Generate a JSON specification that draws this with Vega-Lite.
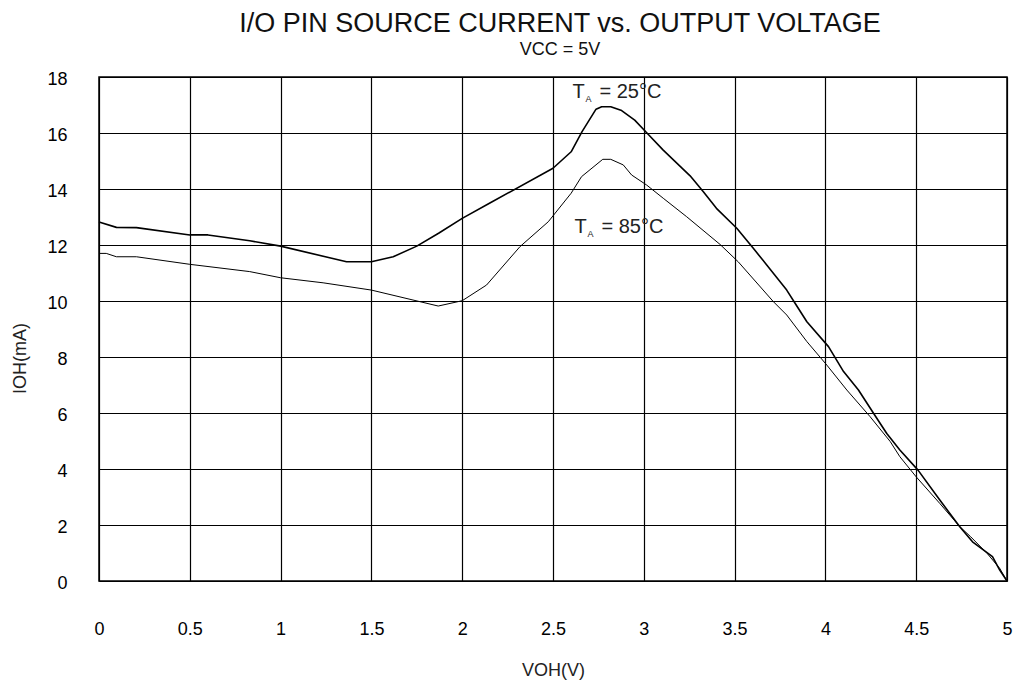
{
  "$schema": "https://vega.github.io/schema/vega-lite/v6.json",
  "autosize": "none",
  "width": 908,
  "height": 504,
  "padding": {"left": 99, "top": 77, "right": 11, "bottom": 108},
  "background": "white",
  "config": {
    "font": "Liberation Sans",
    "view": {"stroke": "black", "strokeWidth": 1.5},
    "axis": {"grid": true, "gridColor": "black", "gridOpacity": 1, "gridWidth": 1.2, "domain": false, "ticks": false, "labelFlush": false, "labelFont": "Liberation Sans", "labelFontSize": 18, "labelColor": "black", "titleFont": "Liberation Sans", "titleFontSize": 18, "titleFontWeight": "normal", "titleColor": "#222"}
  },
  "title": {
    "text": "I/O PIN SOURCE CURRENT vs. OUTPUT VOLTAGE",
    "subtitle": "VCC = 5V",
    "anchor": "middle",
    "dx": 7,
    "font": "Liberation Sans",
    "fontSize": 27,
    "fontWeight": "normal",
    "color": "#111",
    "subtitleFont": "Liberation Sans",
    "subtitleFontSize": 18,
    "subtitleColor": "#111",
    "subtitlePadding": 3,
    "offset": 10
  },
  "datasets": {
    "curves": [
      {"v": 0, "i": 12.82, "t": "25"},
      {"v": 0.096, "i": 12.63, "t": "25"},
      {"v": 0.206, "i": 12.62, "t": "25"},
      {"v": 0.5, "i": 12.36, "t": "25"},
      {"v": 0.6, "i": 12.36, "t": "25"},
      {"v": 0.83, "i": 12.15, "t": "25"},
      {"v": 1.0, "i": 11.96, "t": "25"},
      {"v": 1.363, "i": 11.4, "t": "25"},
      {"v": 1.5, "i": 11.4, "t": "25"},
      {"v": 1.62, "i": 11.58, "t": "25"},
      {"v": 1.75, "i": 11.96, "t": "25"},
      {"v": 1.87, "i": 12.42, "t": "25"},
      {"v": 2.0, "i": 12.95, "t": "25"},
      {"v": 2.15, "i": 13.49, "t": "25"},
      {"v": 2.5, "i": 14.74, "t": "25"},
      {"v": 2.6, "i": 15.33, "t": "25"},
      {"v": 2.66, "i": 16.05, "t": "25"},
      {"v": 2.737, "i": 16.85, "t": "25"},
      {"v": 2.768, "i": 16.94, "t": "25"},
      {"v": 2.818, "i": 16.94, "t": "25"},
      {"v": 2.878, "i": 16.8, "t": "25"},
      {"v": 2.95, "i": 16.46, "t": "25"},
      {"v": 3.016, "i": 16.01, "t": "25"},
      {"v": 3.107, "i": 15.39, "t": "25"},
      {"v": 3.255, "i": 14.47, "t": "25"},
      {"v": 3.328, "i": 13.9, "t": "25"},
      {"v": 3.4, "i": 13.31, "t": "25"},
      {"v": 3.512, "i": 12.6, "t": "25"},
      {"v": 3.603, "i": 11.88, "t": "25"},
      {"v": 3.677, "i": 11.29, "t": "25"},
      {"v": 3.787, "i": 10.39, "t": "25"},
      {"v": 3.833, "i": 9.92, "t": "25"},
      {"v": 3.898, "i": 9.26, "t": "25"},
      {"v": 4.017, "i": 8.37, "t": "25"},
      {"v": 4.1, "i": 7.48, "t": "25"},
      {"v": 4.182, "i": 6.82, "t": "25"},
      {"v": 4.265, "i": 5.99, "t": "25"},
      {"v": 4.338, "i": 5.27, "t": "25"},
      {"v": 4.41, "i": 4.68, "t": "25"},
      {"v": 4.51, "i": 3.96, "t": "25"},
      {"v": 4.63, "i": 2.89, "t": "25"},
      {"v": 4.74, "i": 1.94, "t": "25"},
      {"v": 4.81, "i": 1.4, "t": "25"},
      {"v": 4.92, "i": 0.87, "t": "25"},
      {"v": 4.96, "i": 0.39, "t": "25"},
      {"v": 5.0, "i": 0, "t": "25"},
      {"v": 0, "i": 11.7, "t": "85"},
      {"v": 0.04, "i": 11.7, "t": "85"},
      {"v": 0.096, "i": 11.58, "t": "85"},
      {"v": 0.206, "i": 11.58, "t": "85"},
      {"v": 0.5, "i": 11.31, "t": "85"},
      {"v": 0.83, "i": 11.05, "t": "85"},
      {"v": 1.0, "i": 10.83, "t": "85"},
      {"v": 1.234, "i": 10.65, "t": "85"},
      {"v": 1.5, "i": 10.39, "t": "85"},
      {"v": 1.868, "i": 9.82, "t": "85"},
      {"v": 2.0, "i": 10.01, "t": "85"},
      {"v": 2.134, "i": 10.57, "t": "85"},
      {"v": 2.318, "i": 11.94, "t": "85"},
      {"v": 2.474, "i": 12.83, "t": "85"},
      {"v": 2.6, "i": 13.85, "t": "85"},
      {"v": 2.657, "i": 14.44, "t": "85"},
      {"v": 2.774, "i": 15.06, "t": "85"},
      {"v": 2.818, "i": 15.06, "t": "85"},
      {"v": 2.887, "i": 14.86, "t": "85"},
      {"v": 2.933, "i": 14.5, "t": "85"},
      {"v": 3.016, "i": 14.14, "t": "85"},
      {"v": 3.107, "i": 13.67, "t": "85"},
      {"v": 3.236, "i": 13.01, "t": "85"},
      {"v": 3.42, "i": 12.02, "t": "85"},
      {"v": 3.52, "i": 11.4, "t": "85"},
      {"v": 3.713, "i": 9.98, "t": "85"},
      {"v": 3.787, "i": 9.5, "t": "85"},
      {"v": 3.898, "i": 8.55, "t": "85"},
      {"v": 4.008, "i": 7.71, "t": "85"},
      {"v": 4.118, "i": 6.82, "t": "85"},
      {"v": 4.246, "i": 5.87, "t": "85"},
      {"v": 4.357, "i": 4.98, "t": "85"},
      {"v": 4.41, "i": 4.44, "t": "85"},
      {"v": 4.5, "i": 3.72, "t": "85"},
      {"v": 4.63, "i": 2.77, "t": "85"},
      {"v": 4.74, "i": 1.94, "t": "85"},
      {"v": 4.8, "i": 1.58, "t": "85"},
      {"v": 4.89, "i": 0.99, "t": "85"},
      {"v": 4.96, "i": 0.45, "t": "85"},
      {"v": 5.0, "i": 0, "t": "85"}
    ],
    "labels": [
      {"v": 2.607, "i": 17.25, "main": "T", "sub": "A", "rest": "= 25°C"},
      {"v": 2.618, "i": 12.43, "main": "T", "sub": "A", "rest": "= 85°C"}
    ]
  },
  "layer": [
    {
      "data": {"name": "curves"},
      "mark": {"type": "line", "color": "black", "strokeJoin": "round"},
      "encoding": {
        "x": {"field": "v", "type": "quantitative", "scale": {"domain": [0, 5], "nice": false, "zero": false},
              "axis": {"values": [0, 0.5, 1, 1.5, 2, 2.5, 3, 3.5, 4, 4.5, 5], "format": "~g", "labelPadding": 39, "title": "VOH(V)", "titleY": 89, "titleBaseline": "middle"}},
        "y": {"field": "i", "type": "quantitative", "scale": {"domain": [0, 18], "nice": false},
              "axis": {"values": [0, 2, 4, 6, 8, 10, 12, 14, 16, 18], "labelPadding": 32, "labelOffset": 2, "title": "IOH(mA)", "titleX": -79, "titleY": 281, "titleAngle": -90, "titleBaseline": "middle"}},
        "detail": {"field": "t", "type": "nominal"},
        "strokeWidth": {"field": "t", "type": "nominal", "scale": {"domain": ["25", "85"], "range": [1.6, 1]}, "legend": null}
      }
    },
    {
      "data": {"name": "labels"},
      "mark": {"type": "text", "align": "left", "baseline": "alphabetic", "fontSize": 20, "color": "#222", "font": "Liberation Sans"},
      "encoding": {"x": {"field": "v", "type": "quantitative"}, "y": {"field": "i", "type": "quantitative"}, "text": {"field": "main"}}
    },
    {
      "data": {"name": "labels"},
      "mark": {"type": "text", "align": "left", "baseline": "alphabetic", "fontSize": 9, "dx": 13, "dy": 4, "color": "#222", "font": "Liberation Sans"},
      "encoding": {"x": {"field": "v", "type": "quantitative"}, "y": {"field": "i", "type": "quantitative"}, "text": {"field": "sub"}}
    },
    {
      "data": {"name": "labels"},
      "mark": {"type": "text", "align": "left", "baseline": "alphabetic", "fontSize": 20, "dx": 27, "color": "#222", "font": "Liberation Sans"},
      "encoding": {"x": {"field": "v", "type": "quantitative"}, "y": {"field": "i", "type": "quantitative"}, "text": {"field": "rest"}}
    }
  ]
}
